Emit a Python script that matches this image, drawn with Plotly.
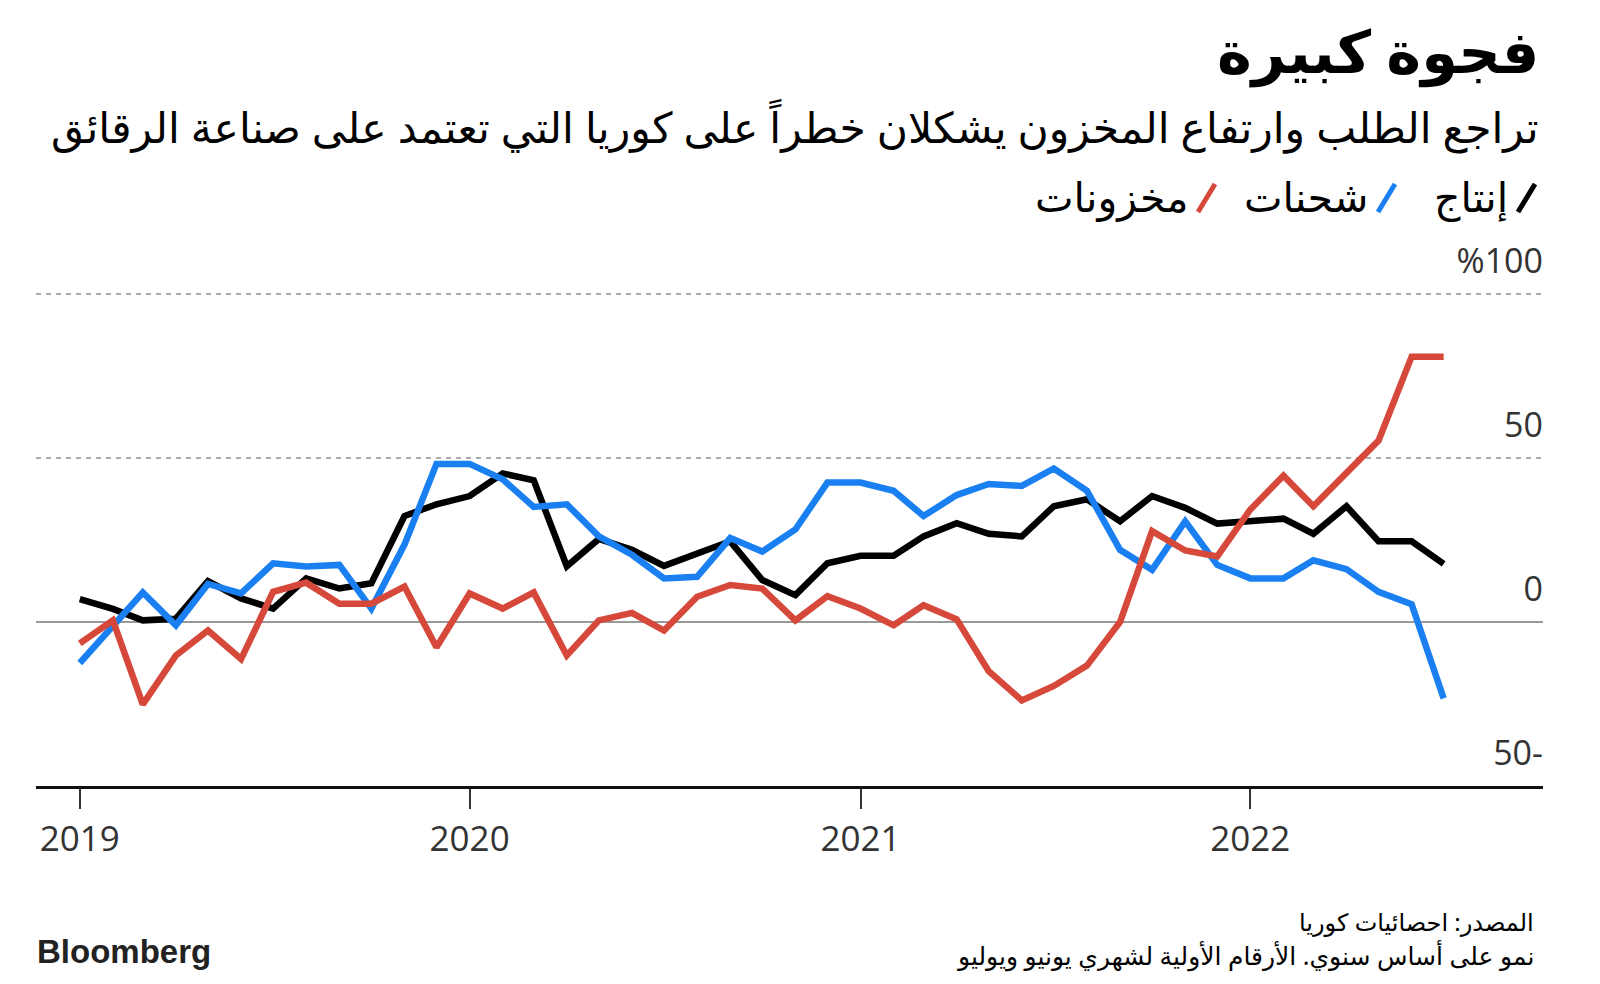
import pandas as pd
import plotly.graph_objects as go

# the page body has an 8px margin, so the figure itself starts at (8, 8)
OFF = 8
W, H = 1600 - OFF, 984 - OFF

# monthly, Jan 2019 - Jul 2022 (year-on-year growth, %)
months = pd.date_range("2019-01-01", "2022-07-01", freq="MS")

production = [
    7.0, 4.0, 0.5, 1.0, 12.5, 7.2, 4.1, 13.3, 10.2, 11.8, 32.3, 35.9,
    38.4, 45.3, 43.2, 17.0, 25.3, 22.0, 17.1, 21.0, 24.6, 12.8, 8.2, 17.9,
    20.2, 20.2, 26.1, 30.1, 26.9, 26.1, 35.3, 37.4, 30.7, 38.4, 34.8, 30.0,
    30.7, 31.5, 26.9, 35.3, 24.6, 24.6, 17.7,
]
shipments = [
    -12.5, -1.5, 9.0, -1.0, 11.6, 8.7, 17.9, 16.9, 17.4, 4.1, 23.6, 48.2,
    48.2, 43.5, 35.1, 35.9, 26.1, 20.5, 13.3, 13.8, 25.6, 21.5, 28.2, 42.5,
    42.5, 40.0, 32.3, 38.7, 42.1, 41.5, 46.8, 40.0, 22.0, 15.9, 30.7, 17.4,
    13.3, 13.3, 18.8, 16.1, 9.2, 5.4, -23.3,
]
inventories = [
    -6.5, 0.5, -25.1, -10.2, -2.6, -11.3, 9.2, 12.0, 5.6, 5.6, 10.8, -7.7,
    8.7, 4.1, 9.0, -10.2, 0.5, 2.8, -2.6, 7.7, 11.3, 10.2, 0.5, 7.9,
    4.1, -1.0, 5.1, 0.8, -15.0, -23.9, -19.5, -13.3, 0.0, 27.7, 21.8, 20.0,
    34.3, 44.6, 35.3, 45.6, 55.3, 80.9, 80.9,
]

series_names = ["إنتاج", "شحنات", "مخزونات"]
series_colors = ["#000000", "#1a80f2", "#d6493a"]

y_tickvals = [-50, 0, 50, 100]
y_ticktext = ["50-", "0", "50", "%100"]
x_tickvals = ["2019-01-01", "2020-01-01", "2021-01-01", "2022-01-01"]

title = "فجوة كبيرة"
subtitle = "تراجع الطلب وارتفاع المخزون يشكلان خطراً على كوريا التي تعتمد على صناعة الرقائق"
source = "المصدر: احصائيات كوريا"
note = "نمو على أساس سنوي. الأرقام الأولية لشهري يونيو ويوليو"

ar_font = "Noto Sans, DejaVu Sans, sans-serif"
num_font = "Open Sans, Noto Sans, sans-serif"


def px(x):
    return (x - OFF) / W


def py(y):
    return 1 - (y - OFF) / H


fig = go.Figure()
for name, vals, color in zip(series_names, [production, shipments, inventories], series_colors):
    fig.add_trace(go.Scatter(
        x=months, y=vals, mode="lines", name=name,
        line={"color": color, "width": 6.5}, showlegend=False,
    ))

fig.update_layout(
    width=W, height=H,
    margin={"l": 0, "r": 0, "t": 0, "b": 0},
    paper_bgcolor="white", plot_bgcolor="white",
    font={"family": num_font, "size": 34, "color": "#333333"},
)

fig.update_xaxes(
    type="date",
    domain=[px(36), px(1543)],
    range=["2018-11-21", "2022-10-02"],
    tickvals=x_tickvals, tickformat="%Y",
    ticks="outside", ticklen=20, tickwidth=1.5, tickcolor="#333333",
    showline=True, linecolor="#111111", linewidth=2.5,
    showgrid=False, zeroline=False,
    tickfont={"size": 35, "color": "#333333"},
)

# range runs past 100 so the raised "%100" label still sits inside the plot area
Y_TOP = 120
fig.update_yaxes(
    domain=[py(786), py(294 - (Y_TOP - 100) * 164 / 50)],
    range=[-50, Y_TOP],
    side="right",
    tickvals=y_tickvals, ticktext=y_ticktext,
    ticks="", ticklabelposition="inside", ticklabelshift=-33, ticklabelstandoff=-3,
    showgrid=True, gridcolor="#aaaaaa", gridwidth=2, griddash="5px,5px",
    zeroline=True, zerolinecolor="#999999", zerolinewidth=1.5,
    showline=False,
    tickfont={"size": 34, "color": "#333333"},
)

# title block
fig.add_annotation(text=f"<b>{title}</b>", xref="paper", yref="paper",
                   x=px(1541), y=py(50), xanchor="right", yanchor="middle",
                   showarrow=False, font={"family": ar_font, "size": 59, "color": "#000000"})
fig.add_annotation(text=subtitle, xref="paper", yref="paper",
                   x=px(1541), y=py(126), xanchor="right", yanchor="middle",
                   showarrow=False, font={"family": ar_font, "size": 42.5, "color": "#000000"})

# legend: label with a coloured slash to its right
legend_right = [1510, 1370, 1190]
for name, color, xr in zip(series_names, series_colors, legend_right):
    fig.add_annotation(text=name, xref="paper", yref="paper",
                       x=px(xr), y=py(196), xanchor="right", yanchor="middle",
                       showarrow=False, font={"family": ar_font, "size": 41, "color": "#000000"})
    fig.add_shape(type="line", xref="paper", yref="paper",
                  x0=px(xr + 8), y0=py(212), x1=px(xr + 25), y1=py(184),
                  line={"color": color, "width": 5})

# footer
fig.add_annotation(text=source, xref="paper", yref="paper",
                   x=px(1536), y=py(921), xanchor="right", yanchor="middle",
                   showarrow=False, font={"family": ar_font, "size": 24, "color": "#000000"})
fig.add_annotation(text=note, xref="paper", yref="paper",
                   x=px(1536), y=py(955), xanchor="right", yanchor="middle",
                   showarrow=False, font={"family": ar_font, "size": 25, "color": "#000000"})
fig.add_annotation(text="<b>Bloomberg</b>", xref="paper", yref="paper",
                   x=px(35), y=py(951), xanchor="left", yanchor="middle",
                   showarrow=False,
                   font={"family": "Liberation Sans, Arial, sans-serif", "size": 33, "color": "#222222"})

fig.write_html("out.html")
